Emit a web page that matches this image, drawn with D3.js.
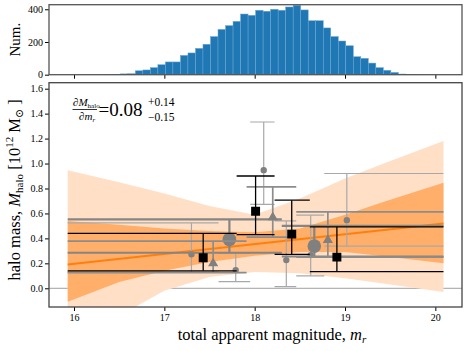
<!DOCTYPE html>
<html lang='en'>
<head>
<meta charset='UTF-8'>
<title>halo mass vs apparent magnitude</title>
<script src='https://cdn.jsdelivr.net/npm/d3@7/dist/d3.min.js'></script>
<style>
  body { margin: 0; background: #fff; }
  svg { font-family: 'Liberation Serif', 'DejaVu Serif', serif; display: block; }
</style>
</head>
<body>
<div id='anchor'></div>
<script>
// histogram of r-band magnitudes, 50 equal bins
const histRange = [15.93, 20.09];
const histCounts = [0, 0, 0, 0, 0, 1, 2, 5, 6, 24,
                    29, 43, 61, 78, 78, 118, 133, 161, 186, 233,
                    277, 300, 326, 371, 363, 394, 388, 400, 394, 414,
                    424, 396, 330, 330, 286, 233, 206, 177, 110, 100,
                    71, 43, 27, 14, 4, 2, 1, 0, 0, 0];

// fitted relation and its two credible bands
const fitMag = [15.93, 20.09];
const fitMass = [0.19, 0.52];
const bandMag = [15.93, 16.5, 17.0, 17.5, 18.0, 18.5, 19.0, 19.5, 20.09];
const outerHi = [0.947, 0.85, 0.76, 0.66, 0.59, 0.72, 0.88, 1.02, 1.18];
const outerLo = [-0.55, -0.22, -0.02, 0.09, 0.13, 0.12, 0.08, 0.03, -0.03];
const innerHi = [0.54, 0.51, 0.48, 0.46, 0.45, 0.48, 0.59, 0.71, 0.845];
const innerLo = [-0.107, 0.05, 0.14, 0.21, 0.26, 0.29, 0.29, 0.25, 0.20];

// 4 bins: black squares
const sqEdges = [15.93, 17.80, 18.22, 18.61, 20.09];
const sqMag = [17.43, 18.01, 18.41, 18.91];
const sqMass = [0.245, 0.618, 0.434, 0.25];
const sqLo = [0.14, 0.43, 0.272, 0.133];
const sqHi = [0.44, 0.90, 0.706, 0.493];

// 3 bins: triangles
const trEdges = [15.93, 17.91, 18.46, 20.09];
const trMag = [17.54, 18.20, 18.81];
const trMass = [0.20, 0.568, 0.386];
const trLo = [0.125, 0.41, 0.25];
const trHi = [0.378, 0.813, 0.613];

// 2 bins: large circles
const bigEdges = [15.93, 18.30, 20.09];
const bigMag = [17.72, 18.66];
const bigMass = [0.392, 0.338];
const bigLo = [0.285, 0.255];
const bigHi = [0.552, 0.50];

// 6 bins: small circles
const smEdges = [15.93, 17.60, 17.95, 18.22, 18.46, 18.77, 20.09];
const smMag = [17.30, 17.79, 18.10, 18.35, 18.62, 19.02];
const smMass = [0.272, 0.146, 0.947, 0.226, 0.266, 0.546];
const smLo = [0.13, 0.053, 0.672, 0.013, 0.10, 0.338];
const smHi = [0.525, 0.28, 1.333, 0.54, 0.586, 0.92];

const xTicks = [16, 17, 18, 19, 20];
const yTicks = [0, 0.2, 0.4, 0.6, 0.8, 1.0, 1.2, 1.4, 1.6];
const histTicks = [0, 200, 400];

const W = 469, H = 351;
const L = 49, R = 462;
const histTop = 4.7, histBot = 74.7;
const mainTop = 82.7, mainBot = 307;
const serif = "'Liberation Serif', 'DejaVu Serif', serif";

const svg = d3.select('#anchor').append('svg')
    .attr('width', W).attr('height', H)
    .attr('font-family', serif);

const x = d3.scaleLinear().domain([15.723, 20.295]).range([L, R]);
const yH = d3.scaleLinear().domain([0, 428]).range([histBot, histTop]);
const y = d3.scaleLinear().domain([-0.15, 1.648]).range([mainBot, mainTop]);

// ---- histogram ----
const binW = (histRange[1] - histRange[0]) / histCounts.length;
svg.append('g').selectAll('rect')
    .data(histCounts)
    .join('rect')
    .attr('x', (d, i) => x(histRange[0] + i * binW))
    .attr('width', (d, i) => x(histRange[0] + (i + 1) * binW) - x(histRange[0] + i * binW))
    .attr('y', d => yH(d))
    .attr('height', d => histBot - yH(d))
    .attr('fill', '#1f77b4')
    .attr('stroke', '#6ea6d4')
    .attr('stroke-width', 0.5);

svg.append('g')
    .attr('transform', `translate(0,${histBot})`)
    .call(d3.axisBottom(x).tickValues(xTicks).tickSize(4).tickFormat(''))
    .call(g => g.select('.domain').remove());
svg.append('g')
    .attr('transform', `translate(${L},0)`)
    .call(d3.axisLeft(yH).tickValues(histTicks).tickSize(4).tickPadding(2).tickFormat(d3.format('d')))
    .call(g => g.select('.domain').remove())
    .attr('font-family', serif).attr('font-size', 10);
svg.append('rect')
    .attr('x', L).attr('y', histTop).attr('width', R - L).attr('height', histBot - histTop)
    .attr('fill', 'none').attr('stroke', '#555').attr('stroke-width', 1.3);
svg.append('text')
    .attr('transform', `translate(20,${(histTop + histBot) / 2}) rotate(-90)`)
    .attr('text-anchor', 'middle')
    .attr('font-size', 15)
    .text('Num.');

// ---- main panel ----
svg.append('clipPath').attr('id', 'clip')
    .append('rect').attr('x', L).attr('y', mainTop).attr('width', R - L).attr('height', mainBot - mainTop);
const main = svg.append('g').attr('clip-path', 'url(#clip)');

main.append('line')
    .attr('x1', L).attr('x2', R).attr('y1', y(0)).attr('y2', y(0))
    .attr('stroke', '#a0a0a0').attr('stroke-width', 1);

const area = (hi, lo) => d3.area()
    .x((d, i) => x(bandMag[i]))
    .y0((d, i) => y(lo[i]))
    .y1((d, i) => y(hi[i]))(bandMag);
main.append('path').attr('d', area(outerHi, outerLo)).attr('fill', '#ffe0c7');
main.append('path').attr('d', area(innerHi, innerLo)).attr('fill', '#ffaf69');
main.append('path')
    .attr('d', d3.line().x((d, i) => x(fitMag[i])).y((d, i) => y(fitMass[i]))(fitMag))
    .attr('stroke', '#ff7f0e').attr('stroke-width', 2).attr('fill', 'none');

function drawGroup(edges, mag, mass, lo, hi, color, width, marker) {
    const g = main.append('g').attr('stroke', color).attr('stroke-width', width);
    mag.forEach((m, i) => {
        [lo[i], hi[i]].forEach(v => {
            g.append('line')
                .attr('x1', x(edges[i])).attr('x2', x(edges[i + 1]))
                .attr('y1', y(v)).attr('y2', y(v));
        });
        g.append('line')
            .attr('x1', x(m)).attr('x2', x(m))
            .attr('y1', y(lo[i])).attr('y2', y(hi[i]));
    });
    main.append('g').selectAll('path')
        .data(mag)
        .join('path')
        .attr('transform', (d, i) => `translate(${x(d)},${y(mass[i])})`)
        .attr('d', marker)
        .attr('fill', color === '#000' ? '#000' : '#808080');
}

drawGroup(smEdges, smMag, smMass, smLo, smHi, '#a8a8a8', 1.2,
    d3.symbol(d3.symbolCircle, 32)());
drawGroup(bigEdges, bigMag, bigMass, bigLo, bigHi, '#858585', 2.2,
    d3.symbol(d3.symbolCircle, 145)());
drawGroup(trEdges, trMag, trMass, trLo, trHi, '#8c8c8c', 1.7,
    d3.symbol(d3.symbolTriangle, 45)());
drawGroup(sqEdges, sqMag, sqMass, sqLo, sqHi, '#000', 1.3,
    d3.symbol(d3.symbolSquare, 80)());

svg.append('g')
    .attr('transform', `translate(0,${mainBot})`)
    .call(d3.axisBottom(x).tickValues(xTicks).tickSize(4).tickPadding(3).tickFormat(d3.format('d')))
    .call(g => g.select('.domain').remove())
    .attr('font-family', serif).attr('font-size', 10);
svg.append('g')
    .attr('transform', `translate(${L},0)`)
    .call(d3.axisLeft(y).tickValues(yTicks).tickSize(4).tickPadding(2).tickFormat(d3.format('.1f')))
    .call(g => g.select('.domain').remove())
    .attr('font-family', serif).attr('font-size', 10);
svg.append('rect')
    .attr('x', L).attr('y', mainTop).attr('width', R - L).attr('height', mainBot - mainTop)
    .attr('fill', 'none').attr('stroke', '#444').attr('stroke-width', 1.3);

// axis labels
const xl = svg.append('text')
    .attr('x', 272).attr('y', 340)
    .attr('text-anchor', 'middle').attr('font-size', 16.5);
xl.append('tspan').text('total apparent magnitude, ');
xl.append('tspan').attr('font-style', 'italic').text('m');
xl.append('tspan').attr('font-style', 'italic').attr('font-size', 11).attr('dy', 3).text('r');

const yl = svg.append('text')
    .attr('transform', `translate(20,${(mainTop + mainBot) / 2 - 5}) rotate(-90)`)
    .attr('text-anchor', 'middle').attr('font-size', 16.5);
yl.append('tspan').text('halo mass, ');
yl.append('tspan').attr('font-style', 'italic').text('M');
yl.append('tspan').attr('font-size', 11).attr('dy', 3).text('halo');
yl.append('tspan').attr('dy', -3).text(' [10');
yl.append('tspan').attr('font-size', 11).attr('dy', -7).text('12');
yl.append('tspan').attr('dy', 7).text('  M');
yl.append('tspan').attr('font-size', 11).attr('dy', 3).text('\u2299');
yl.append('tspan').attr('dy', -3).text(' ]');

// slope annotation
const ann = svg.append('g');
const num = ann.append('text').attr('x', 73).attr('y', 106).attr('font-size', 11);
num.append('tspan').attr('font-style', 'italic').text('\u2202M');
num.append('tspan').attr('font-size', 7).attr('dy', 2).text('halo');
ann.append('line').attr('x1', 72.5).attr('x2', 97).attr('y1', 109.5).attr('y2', 109.5)
    .attr('stroke', '#000').attr('stroke-width', 0.8);
const den = ann.append('text').attr('x', 79).attr('y', 120).attr('font-size', 11);
den.append('tspan').attr('font-style', 'italic').text('\u2202m');
den.append('tspan').attr('font-style', 'italic').attr('font-size', 7).attr('dy', 2).text('r');
ann.append('text').attr('x', 98.5).attr('y', 115.5).attr('font-size', 19).text('=0.08');
ann.append('text').attr('x', 148).attr('y', 105.5).attr('font-size', 11.5).text('+0.14');
ann.append('text').attr('x', 148).attr('y', 121).attr('font-size', 11.5).text('\u22120.15');
</script>
</body>
</html>
